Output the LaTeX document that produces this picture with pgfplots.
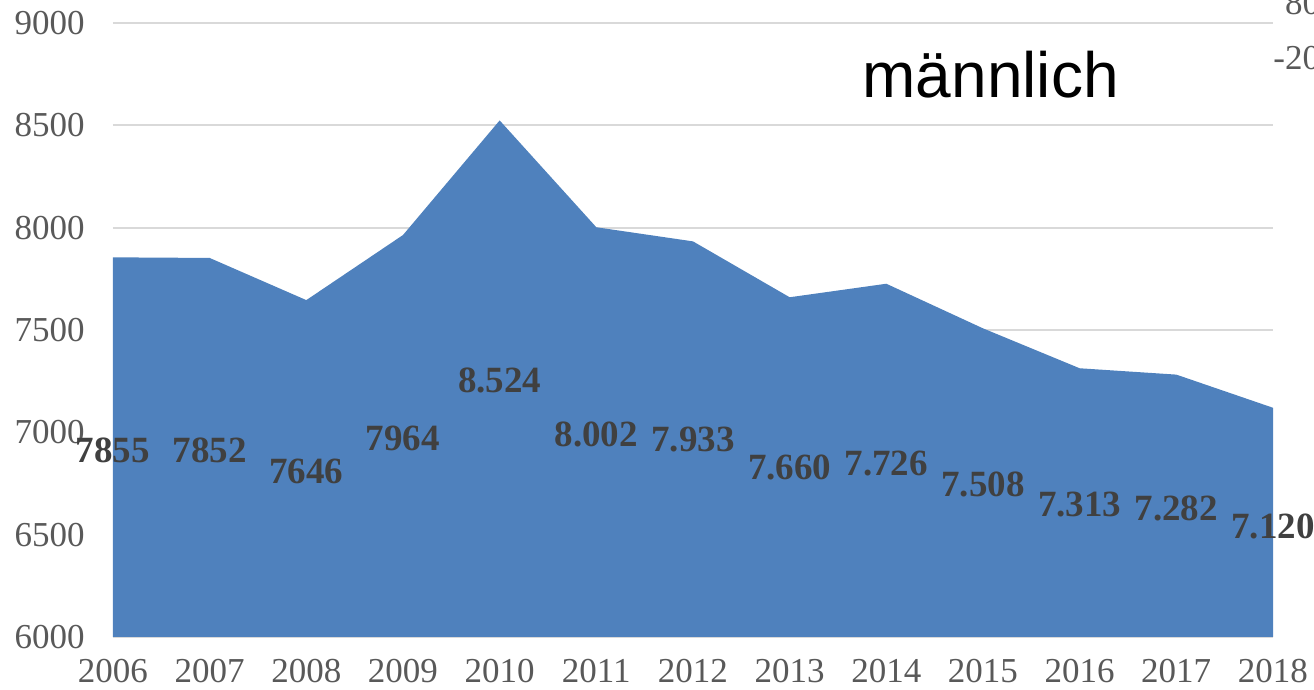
\documentclass[border=0pt]{standalone}
\usepackage{pgfplots}
\pgfplotsset{compat=1.18}
\usepackage{fontspec}
\setmainfont{Liberation Serif}
\newfontfamily\arialfont{Liberation Sans}
\definecolor{areablue}{HTML}{4F81BD}
\definecolor{tickgray}{HTML}{595959}
\definecolor{labgray}{HTML}{404040}
\definecolor{gridgray}{HTML}{D9D9D9}
\begin{document}
\begin{tikzpicture}
\useasboundingbox (-56.5pt,-26.5pt) rectangle (600.5pt,318.5pt);
\begin{axis}[
  at={(0,0)}, anchor=south west,
  scale only axis, width=580pt, height=307pt,
  xmin=2006, xmax=2018, ymin=6000, ymax=9000,
  xtick={2006,...,2018},
  ytick={6000,6500,...,9000},
  axis line style={draw=none},
  major tick length=0pt,
  ymajorgrids, grid style={gridgray, line width=1pt},
  /pgf/number format/1000 sep={},
  /pgf/number format/assume math mode=true,
  ticklabel style={font=\fontsize{17.5}{17.5}\selectfont, text=tickgray, inner sep=0pt},
  yticklabel style={anchor=east, xshift=-14pt},
  xticklabel style={anchor=base, yshift=-23pt},
  clip=false,
]
\addplot[fill=areablue, draw=none] coordinates {
 (2006,7855) (2007,7852) (2008,7646) (2009,7964) (2010,8524) (2011,8002)
 (2012,7933) (2013,7660) (2014,7726) (2015,7508) (2016,7313) (2017,7282) (2018,7120)
} \closedcycle;
\addplot[draw=none, mark=none, point meta=explicit symbolic,
  nodes near coords, nodes near coords align={center},
  every node near coord/.append style={font=\bfseries\fontsize{18.5}{18.5}\selectfont, text=labgray, inner sep=0pt}]
coordinates {
 (2006,6914) [7855] (2007,6914) [7852] (2008,6811) [7646] (2009,6972) [7964]
 (2010,7251) [8.524] (2011,6992) [8.002] (2012,6963) [7.933] (2013,6826) [7.660]
 (2014,6850) [7.726] (2015,6743) [7.508] (2016,6645) [7.313] (2017,6630) [7.282]
 (2018,6542) [7.120]
};
\node[font=\arialfont\fontsize{32}{32}\selectfont, text=black, anchor=base] at (axis cs:2015.08,8635) {männlich};
\end{axis}
\node[anchor=east, inner sep=0pt, font=\fontsize{17.5}{17.5}\selectfont, text=tickgray] at (612.5pt,317pt) {800};
\node[anchor=east, inner sep=0pt, font=\fontsize{17.5}{17.5}\selectfont, text=tickgray] at (612.5pt,289.5pt) {-200};
\end{tikzpicture}
\end{document}
